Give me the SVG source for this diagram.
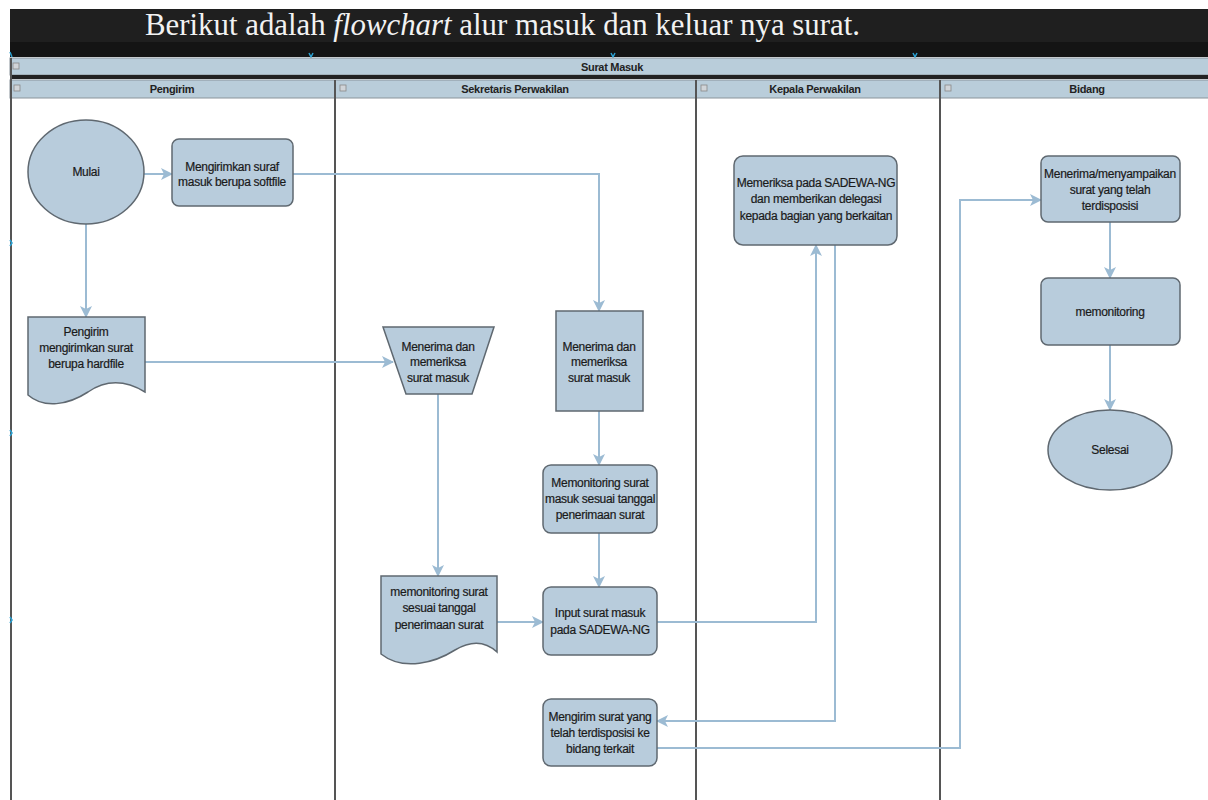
<svg xmlns="http://www.w3.org/2000/svg" width="1208" height="800" viewBox="0 0 1208 800">
<defs>
<style>
.node{fill:#b8ccdc;stroke:#5f6870;stroke-width:1.5}
.t{font-family:"Liberation Sans",Arial,sans-serif;font-size:12px;fill:#1a1a1a;text-anchor:middle;letter-spacing:-0.3px;stroke:#1a1a1a;stroke-width:0.2px}
.h{font-family:"Liberation Sans",Arial,sans-serif;font-size:11px;font-weight:bold;fill:#222;text-anchor:middle;letter-spacing:-0.3px}
.hdr{fill:#b9cdda;stroke:#8a949b;stroke-width:1}
.lane{stroke:#555;stroke-width:2;fill:none}
.c{fill:none;stroke:#9cbbd3;stroke-width:2}
.ico{fill:#d0d4d8;stroke:#888;stroke-width:0.8}
.mk{fill:none;stroke:#2a9fd0;stroke-width:1.5}
</style>
<marker id="ah" viewBox="0 0 12 12" refX="11" refY="6" markerWidth="12" markerHeight="12" markerUnits="userSpaceOnUse" orient="auto">
<path d="M0,0 L12,6 L0,12 L3,6 Z" fill="#9cbbd3"/>
</marker>
</defs>
<rect width="1208" height="800" fill="#ffffff"/>
<g id="title-band">
<rect x="10" y="9" width="1198" height="48" fill="#1f1f1f"/>
<rect x="10" y="42" width="1198" height="15" fill="#141414"/>
<text x="145" y="35" font-family="'Liberation Serif','Times New Roman',serif" font-size="32" fill="#f2f2f2" textLength="715" lengthAdjust="spacingAndGlyphs">Berikut adalah <tspan font-style="italic">flowchart</tspan> alur masuk dan keluar nya surat.</text>
<path class="mk" d="M10,52 L12,57 M309,53 L311,57 L313,53 M611,53 L613,57 L615,53 M913,53 L915,57 L917,53"/>
</g>
<g id="pool-header">
<rect class="hdr" x="10" y="58" width="1200" height="17"/>
<rect x="10" y="75" width="1200" height="4" fill="#222"/>
<rect class="ico" x="13" y="63" width="6" height="6"/>
<text class="h" x="612" y="71">Surat Masuk</text>
</g>
<g id="lanes">
<rect class="hdr" x="10" y="80" width="1200" height="18"/>
<line class="lane" x1="11" y1="58" x2="11" y2="800"/>
<line class="lane" x1="335" y1="80" x2="335" y2="800"/>
<line class="lane" x1="696" y1="80" x2="696" y2="800"/>
<line class="lane" x1="940" y1="80" x2="940" y2="800"/>
<rect class="ico" x="14" y="85" width="6" height="6"/>
<rect class="ico" x="340" y="85" width="6" height="6"/>
<rect class="ico" x="701" y="85" width="6" height="6"/>
<rect class="ico" x="945" y="85" width="6" height="6"/>
<text class="h" x="172" y="93">Pengirim</text>
<text class="h" x="515" y="93">Sekretaris Perwakilan</text>
<text class="h" x="815" y="93">Kepala Perwakilan</text>
<text class="h" x="1087" y="93">Bidang</text>
<path class="mk" d="M10,240 L12,243 L10,246 M10,430 L12,433 L10,436 M10,617 L12,620 L10,623"/>
</g>
<g id="connectors">
<line class="c" x1="144" y1="174" x2="172" y2="174" marker-end="url(#ah)"/>
<line class="c" x1="86" y1="224" x2="86" y2="317" marker-end="url(#ah)"/>
<polyline class="c" points="293,174 599,174 599,311" marker-end="url(#ah)"/>
<line class="c" x1="145" y1="362" x2="393" y2="362" marker-end="url(#ah)"/>
<line class="c" x1="599" y1="411" x2="599" y2="465" marker-end="url(#ah)"/>
<line class="c" x1="599" y1="533" x2="599" y2="587" marker-end="url(#ah)"/>
<line class="c" x1="438" y1="394" x2="438" y2="576" marker-end="url(#ah)"/>
<line class="c" x1="497" y1="622" x2="543" y2="622" marker-end="url(#ah)"/>
<polyline class="c" points="657,622 816,622 816,245" marker-end="url(#ah)"/>
<polyline class="c" points="835,245 835,721 657,721" marker-end="url(#ah)"/>
<polyline class="c" points="657,748 960,748 960,200 1041,200" marker-end="url(#ah)"/>
<line class="c" x1="1110" y1="222" x2="1110" y2="278" marker-end="url(#ah)"/>
<line class="c" x1="1110" y1="345" x2="1110" y2="410" marker-end="url(#ah)"/>
</g>
<g id="mulai">
<ellipse class="node" cx="86" cy="172" rx="58" ry="52"/>
<text class="t" x="86" y="176">Mulai</text>
</g>
<g id="kirim-softfile">
<rect class="node" x="172" y="139" width="121" height="67" rx="7"/>
<text class="t" x="232" y="171">Mengirimkan suraf</text>
<text class="t" x="232" y="186">masuk berupa softfile</text>
</g>
<g id="kirim-hardfile">
<path class="node" d="M28,317 H145 V392 C122,378 104,381 88,392 C68,405 44,409 28,395 Z"/>
<text class="t" x="86" y="336">Pengirim</text>
<text class="t" x="86" y="352">mengirimkan surat</text>
<text class="t" x="86" y="368">berupa hardfile</text>
</g>
<g id="terima-manual">
<path class="node" d="M383,327 H494 L472,394 H406 Z"/>
<text class="t" x="438" y="351">Menerima dan</text>
<text class="t" x="438" y="366">memeriksa</text>
<text class="t" x="438" y="382">surat masuk</text>
</g>
<g id="terima-periksa">
<rect class="node" x="556" y="311" width="87" height="100"/>
<text class="t" x="599" y="351">Menerima dan</text>
<text class="t" x="599" y="366">memeriksa</text>
<text class="t" x="599" y="382">surat masuk</text>
</g>
<g id="monitoring-masuk">
<rect class="node" x="543" y="465" width="114" height="68" rx="8"/>
<text class="t" x="600" y="487">Memonitoring surat</text>
<text class="t" x="600" y="503">masuk sesuai tanggal</text>
<text class="t" x="600" y="519">penerimaan surat</text>
</g>
<g id="monitoring-doc">
<path class="node" d="M381,576 H497 V652 C484,640 470,641 455,650 C436,662 404,672 381,654 Z"/>
<text class="t" x="439" y="596">memonitoring surat</text>
<text class="t" x="439" y="612">sesuai tanggal</text>
<text class="t" x="439" y="629">penerimaan surat</text>
</g>
<g id="input-sadewa">
<rect class="node" x="543" y="587" width="114" height="68" rx="8"/>
<text class="t" x="600" y="617">Input surat masuk</text>
<text class="t" x="600" y="634">pada SADEWA-NG</text>
</g>
<g id="kirim-bidang">
<rect class="node" x="543" y="699" width="114" height="67" rx="8"/>
<text class="t" x="600" y="721">Mengirim surat yang</text>
<text class="t" x="600" y="737">telah terdisposisi ke</text>
<text class="t" x="600" y="753">bidang terkait</text>
</g>
<g id="periksa-sadewa">
<rect class="node" x="734" y="156" width="163" height="89" rx="9"/>
<text class="t" x="816" y="187">Memeriksa pada SADEWA-NG</text>
<text class="t" x="816" y="203">dan memberikan delegasi</text>
<text class="t" x="816" y="220">kepada bagian yang berkaitan</text>
</g>
<g id="terima-disposisi">
<rect class="node" x="1041" y="156" width="139" height="66" rx="7"/>
<text class="t" x="1110" y="178">Menerima/menyampaikan</text>
<text class="t" x="1110" y="194">surat yang telah</text>
<text class="t" x="1110" y="210">terdisposisi</text>
</g>
<g id="memonitoring">
<rect class="node" x="1041" y="278" width="139" height="67" rx="7"/>
<text class="t" x="1110" y="316">memonitoring</text>
</g>
<g id="selesai">
<ellipse class="node" cx="1110" cy="450" rx="62" ry="40"/>
<text class="t" x="1110" y="454">Selesai</text>
</g>
</svg>
